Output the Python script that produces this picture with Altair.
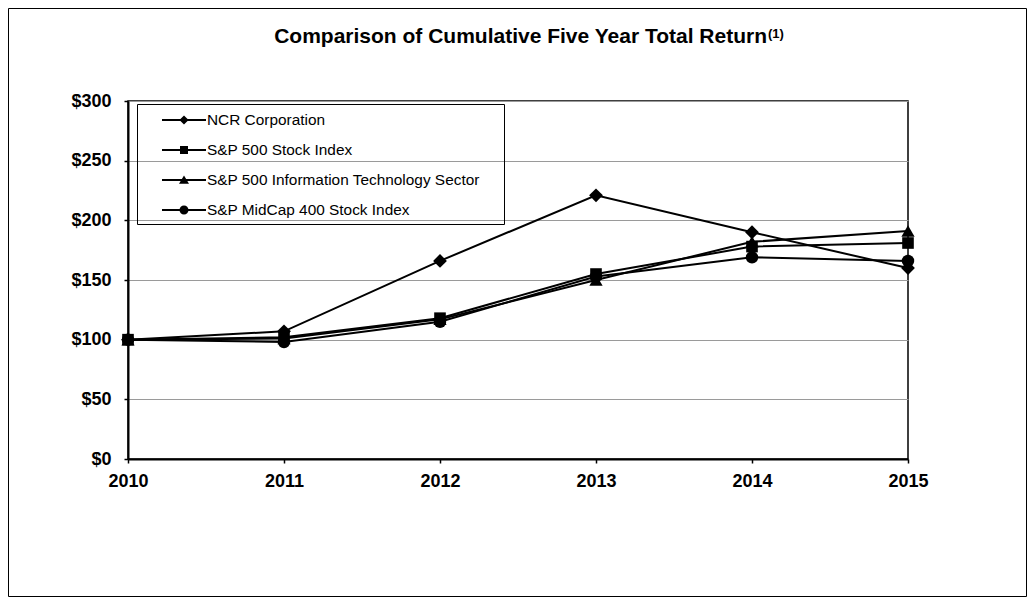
import altair as alt
import pandas as pd

# ---- data ----
years = [2010, 2011, 2012, 2013, 2014, 2015]
series_names = [
    "NCR Corporation",
    "S&P 500 Stock Index",
    "S&P 500 Information Technology Sector",
    "S&P MidCap 400 Stock Index",
]
ncr = [100, 107, 166, 221, 190, 160]
sp500 = [100, 102, 118, 155, 178, 181]
sp_it = [100, 101, 117, 150, 182, 191]
midcap = [100, 98, 115, 153, 169, 166]
y_ticks = [0, 50, 100, 150, 200, 250, 300]
title_text = "Comparison of Cumulative Five Year Total Return"
title_note = "(1)"

values_by_series = {
    "NCR Corporation": ncr,
    "S&P 500 Stock Index": sp500,
    "S&P 500 Information Technology Sector": sp_it,
    "S&P MidCap 400 Stock Index": midcap,
}
# drawing order (last drawn on top)
draw_order = [
    "S&P MidCap 400 Stock Index",
    "S&P 500 Information Technology Sector",
    "NCR Corporation",
    "S&P 500 Stock Index",
]
rows = []
for i, s in enumerate(draw_order):
    for y, v in zip(years, values_by_series[s]):
        rows.append({"year": y, "value": v, "series": s, "ord": i})
df = pd.DataFrame(rows)

FONT = "Liberation Sans"

x_enc = alt.X(
    "year:Q",
    scale=alt.Scale(domain=[years[0], years[-1]], nice=False, zero=False),
    axis=alt.Axis(
        values=years, format="d", title=None, grid=False,
        labelFontSize=18, labelFontWeight="bold", labelFont=FONT, labelColor="black",
        labelFlush=False, labelPadding=9, tickSize=4, tickColor="black", tickWidth=1.5,
        domainColor="black", domainWidth=2,
    ),
)
y_enc = alt.Y(
    "value:Q",
    scale=alt.Scale(domain=[0, 300], nice=False),
    axis=alt.Axis(
        values=y_ticks, format="$.0f", title=None, grid=True,
        gridColor="#9a9a9a", gridWidth=1,
        labelFontSize=18, labelFontWeight="bold", labelFont=FONT, labelColor="black",
        labelPadding=13, tickSize=4, tickColor="black", tickWidth=1.5,
        domainColor="black", domainWidth=2,
    ),
)

lines = alt.Chart(df).mark_line(color="black", strokeWidth=2).encode(
    x=x_enc, y=y_enc, detail="series:N"
)

points = alt.Chart(df).mark_point(filled=True, color="black", opacity=1).encode(
    x=x_enc,
    y=y_enc,
    shape=alt.Shape(
        "series:N",
        scale=alt.Scale(domain=series_names,
                        range=["diamond", "square", "triangle-up", "circle"]),
        legend=None,
    ),
    size=alt.Size(
        "series:N",
        scale=alt.Scale(type="ordinal", domain=series_names, range=[190, 135, 175, 155]),
        legend=None,
    ),
    order=alt.Order("ord:Q"),
)

# legend symbols: a filled thin bar (the line) plus the marker, all filled
BAR = "M-2.2,-0.1H2.2V0.1H-2.2Z"
legend_paths = [
    BAR + "M-0.46,0L0,-0.46L0.46,0L0,0.46Z",
    BAR + "M-0.4,-0.4H0.4V0.4H-0.4Z",
    BAR + "M0,-0.45L0.5,0.38L-0.5,0.38Z",
    BAR + "M-0.45,0A0.45,0.45,0,1,1,0.45,0A0.45,0.45,0,1,1,-0.45,0Z",
]
legend_layer = alt.Chart(df).transform_filter("false").mark_point(
    filled=True, color="black", opacity=1
).encode(
    x=x_enc,
    y=y_enc,
    shape=alt.Shape(
        "series:N",
        scale=alt.Scale(domain=series_names, range=legend_paths),
        legend=alt.Legend(
            orient="none", legendX=45, legendY=8, title=None, padding=0,
            symbolSize=400, symbolFillColor="black", symbolOpacity=1,
            labelFontSize=15.4, labelFont=FONT, labelColor="black",
            labelOffset=12, rowPadding=10, labelLimit=400,
        ),
    ),
)

one = pd.DataFrame({"k": [0]})
legend_frame = alt.Chart(one).mark_rect(
    fill=None, stroke="black", strokeWidth=1
).encode(x=alt.value(9.5), x2=alt.value(376.5), y=alt.value(3.5), y2=alt.value(123.5))

outer_frame = alt.Chart(one).mark_rect(
    fill=None, stroke="black", strokeWidth=1
).encode(x=alt.value(-119.5), x2=alt.value(898.5), y=alt.value(-92.5), y2=alt.value(495.5))

title_main = alt.Chart(one).mark_text(
    text=title_text, font=FONT, fontSize=21, fontWeight="bold", color="black",
    align="right", baseline="alphabetic",
).encode(x=alt.value(639), y=alt.value(-58))

title_sup = alt.Chart(one).mark_text(
    text=title_note, font=FONT, fontSize=13, fontWeight="bold", color="black",
    align="left", baseline="alphabetic",
).encode(x=alt.value(640), y=alt.value(-63))

chart = alt.layer(
    outer_frame, lines, points, legend_layer, legend_frame, title_main, title_sup
).resolve_scale(shape="independent", size="independent").properties(
    width=780, height=358,
    autosize=alt.AutoSizeParams(type="none"),
    padding={"left": 120, "top": 93, "right": 119, "bottom": 138},
    background="white",
).configure_view(stroke="black", strokeWidth=1.5)

chart.save("out.html", embed_options={"renderer": "svg", "actions": False})
